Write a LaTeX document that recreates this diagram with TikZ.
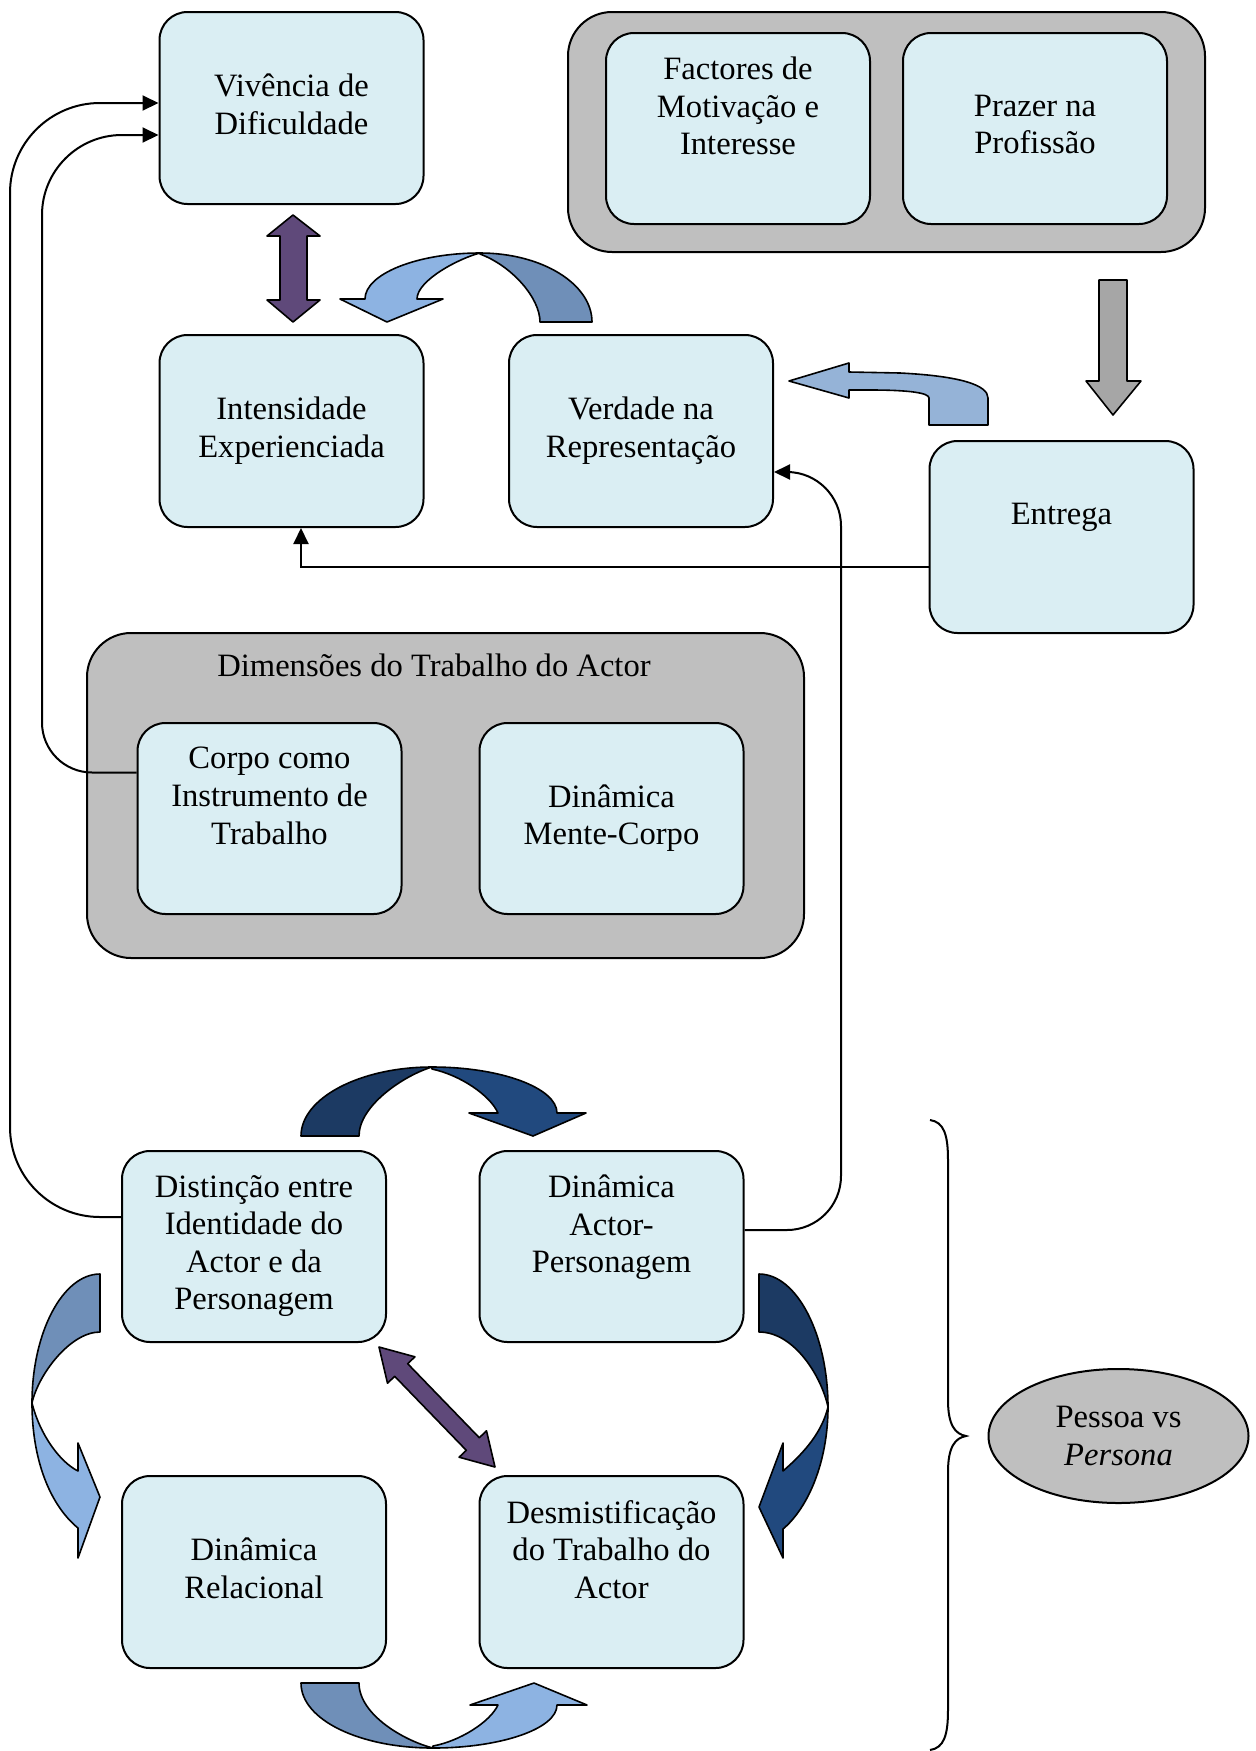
\documentclass[tikz,border=0pt]{standalone}
\usepackage{fontspec}
\setmainfont{Liberation Serif}
\usetikzlibrary{arrows.meta,calc,shapes.geometric}

\definecolor{boxfill}{HTML}{DAEEF3}
\definecolor{groupgrey}{HTML}{BFBFBF}
\definecolor{arrowgrey}{HTML}{A6A6A6}
\definecolor{purplearrow}{HTML}{5F497A}
\definecolor{lightblue}{HTML}{8DB3E2}
\definecolor{midblue}{HTML}{6F8FB8}
\definecolor{bentblue}{HTML}{95B3D7}
\definecolor{navytail}{HTML}{1C3A63}
\definecolor{navyhead}{HTML}{21497E}

\tikzset{
    box/.style={draw, line width=1pt, fill=boxfill, rounded corners=14pt,
        minimum width=132pt, minimum height=96pt, align=center, text depth=4pt},
    raised/.style={text depth=22.8pt},
    group/.style={draw, line width=1pt, fill=groupgrey, rounded corners=22pt},
    conn/.style={line width=1pt, -{Triangle[length=8pt,width=7.5pt]}},
    blockarrow/.style={draw, line width=0.8pt, line join=round},
}

\begin{document}
\begin{tikzpicture}[x=0.5pt, y=-0.5pt, font=\fontsize{16.3}{18.8}\selectfont]
        \useasboundingbox (0,0) rectangle (1256,1751);

        \node[group, minimum width=318.5pt, minimum height=120pt] (topgrp) at (886.5,132) {};
        \node[group, minimum width=358.5pt, minimum height=162.5pt] (dimgrp) at (445.5,795.5) {};
        \node (dimtitle) at (434,665) {Dimensões do Trabalho do Actor};

        \node[box] (viv) at (291.5,108) {Vivência de\\Dificuldade};
        \node[box] (inten) at (291.5,431) {Intensidade\\Experienciada};
        \node[box] (verd) at (641,431) {Verdade na\\Representação};
        \node[box, raised, minimum height=95.5pt] (fact) at (738,128.5) {Factores de\\Motivação e\\Interesse};
        \node[box, minimum height=95.5pt] (praz) at (1035,128.5) {Prazer na\\Profissão};
        \node[box, raised] (entr) at (1061.5,537) {Entrega};
        \node[box, raised, minimum height=95.5pt] (corpo) at (269.5,818.5) {Corpo como\\Instrumento de\\Trabalho};
        \node[box, minimum height=95.5pt] (mente) at (611.5,818.5) {Dinâmica\\Mente-Corpo};
        \node[box, minimum height=95.5pt] (dist) at (254,1246.5) {Distinção entre\\Identidade do\\Actor e da\\Personagem};
        \node[box, raised, minimum height=95.5pt] (actor) at (611.5,1246.5) {Dinâmica\\Actor-\\Personagem};
        \node[box] (rel) at (254,1572) {Dinâmica\\Relacional};
        \node[box, raised] (desm) at (611.5,1572) {Desmistificação\\do Trabalho do\\Actor};

        \node[draw, ellipse, line width=1pt, fill=groupgrey, minimum width=130pt, minimum height=67pt,
            inner sep=0pt, align=center] (pessoa) at (1118.5,1436) {Pessoa vs\\\textit{Persona}};

        \draw[conn] ($(corpo.west)+(0,-46)$) [rounded corners=25pt] -| (42,400)
            [rounded corners=40pt] |- ($(viv.west)+(0,27)$);
        \draw[conn] ($(dist.west)+(0,-29.5)$) [rounded corners=45pt] -| (10,600) |- ($(viv.west)+(0,-5)$);
        \draw[conn] ($(actor.east)+(0,-16.5)$) [rounded corners=27pt] -| (841,800)
            [rounded corners=27pt] |- ($(verd.east)+(0,41)$);
        \draw[conn] ($(entr.west)+(0,30)$) -| ($(inten.south)+(9.5,0)$);

        \filldraw[blockarrow, fill=purplearrow] (293,215) -- (320,236) -- (307,236) -- (307,300) -- (320,300)
            -- (293,322) -- (267,300) -- (280,300) -- (280,236) -- (267,236) -- cycle;
        \filldraw[blockarrow, fill=purplearrow] (379,1347) -- (414.9,1356.8) -- (407.7,1363.7) -- (479.3,1437.7)
            -- (486.5,1430.8) -- (495,1467) -- (459.1,1457.2) -- (466.3,1450.3) -- (394.7,1376.3)
            -- (387.5,1383.2) -- cycle;
        \filldraw[blockarrow, fill=arrowgrey] (1099,280) -- (1127,280) -- (1127,381) -- (1141,381)
            -- (1113,415) -- (1086,381) -- (1099,381) -- cycle;
        \filldraw[blockarrow, fill=bentblue] (789,381) -- (849,363) -- (849,372) -- (900,373)
            .. controls (960,376) and (988,385) .. (988,398) -- (988,425) -- (929,425) -- (929,398)
            .. controls (929,393) and (910,390) .. (870,390) -- (849,390) -- (849,398) -- cycle;

        \filldraw[blockarrow, fill=lightblue] (365,299) .. controls (365,274) and (417,253) .. (480,253)
            .. controls (460,258) and (417,280) .. (417,299) -- (443,299) -- (387,322) -- (340,299) -- cycle;
        \filldraw[blockarrow, fill=midblue] (480,253) .. controls (542,253) and (592,284) .. (592,322)
            -- (540,322) .. controls (540,298) and (512,266) .. (480,254) -- cycle;

        \filldraw[blockarrow, fill=navytail] (301,1136) .. controls (301,1098) and (360,1067) .. (432,1067)
            .. controls (405,1075) and (359,1105) .. (359,1136) -- cycle;
        \filldraw[blockarrow, fill=navyhead] (432,1067) .. controls (501,1067) and (557,1088) .. (557,1113)
            -- (586,1113) -- (533,1136) -- (469,1113) -- (498,1113)
            .. controls (490,1095) and (460,1075) .. (432,1069) -- cycle;

        \filldraw[blockarrow, fill=navytail] (759,1274) .. controls (797,1274) and (828,1335) .. (828,1407)
            .. controls (822,1378) and (795,1332) .. (759,1332) -- cycle;
        \filldraw[blockarrow, fill=navyhead] (828,1407) .. controls (828,1462) and (808,1508) .. (783,1529)
            -- (783,1558) -- (759,1507) -- (783,1443) -- (783,1471)
            .. controls (805,1452) and (822,1432) .. (828,1407) -- cycle;

        \filldraw[blockarrow, fill=midblue] (100,1274) .. controls (63,1274) and (32,1332) .. (32,1403)
            .. controls (38,1375) and (70,1332) .. (100,1332) -- cycle;
        \filldraw[blockarrow, fill=lightblue] (32,1403) .. controls (32,1460) and (50,1505) .. (78,1528)
            -- (78,1558) -- (100,1497) -- (78,1443) -- (78,1471)
            .. controls (60,1462) and (40,1435) .. (32,1403) -- cycle;

        \filldraw[blockarrow, fill=midblue] (301,1683) .. controls (301,1720) and (360,1748) .. (433,1748)
            .. controls (405,1741) and (359,1715) .. (359,1683) -- cycle;
        \filldraw[blockarrow, fill=lightblue] (433,1748) .. controls (500,1748) and (557,1729) .. (557,1705)
            -- (587,1705) -- (534,1683) -- (470,1705) -- (498,1705)
            .. controls (490,1722) and (460,1741) .. (433,1746) -- cycle;

        \draw[line width=1pt] (930,1120) .. controls (944,1122) and (948,1135) .. (948,1160) -- (948,1400)
            .. controls (948,1425) and (955,1434) .. (966,1436) .. controls (955,1438) and (948,1447) .. (948,1472)
            -- (948,1710) .. controls (948,1735) and (944,1748) .. (930,1750);
\end{tikzpicture}
\end{document}
